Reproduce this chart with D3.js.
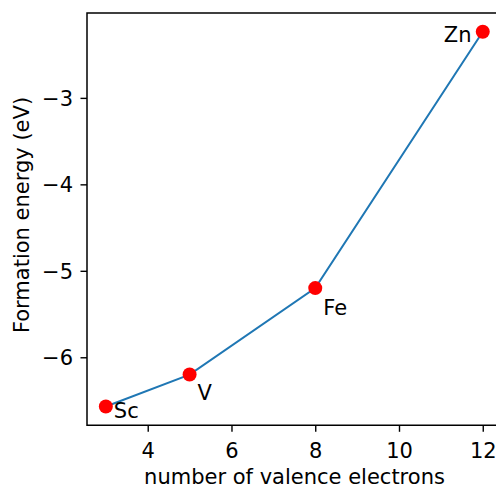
<!DOCTYPE html>
<html>
<head>
<meta charset="utf-8">
<script src="https://cdn.jsdelivr.net/npm/d3@7"></script>
<style>
  html, body { margin: 0; padding: 0; background: #fff; }
  svg { display: block; }
  text { font-family: "DejaVu Sans", sans-serif; fill: #000; }
</style>
</head>
<body>
<svg id="chart" width="496" height="489"></svg>
<script>
// Formation energy vs. number of valence electrons
const elements = ["Sc", "V", "Fe", "Zn"];
const valence = [3, 5, 8, 12];
const energy = [-6.57, -6.2, -5.2, -2.235];
const xTicks = [4, 6, 8, 10, 12];
const yTicks = [-3, -4, -5, -6];
// label offsets (dx, dy of baseline) relative to each point
const labelDx = [8, 8, 8, -39];
const labelDy = [11, 25.5, 27, 10.5];

const fontSize = "21px";
const svg = d3.select("#chart");
const plotLeft = 87, plotTop = 13, plotRight = 501.6, plotBottom = 425.3;

// 5% padding around data, like the usual plotting defaults
const xr = d3.max(valence) - d3.min(valence);
const yr = d3.max(energy) - d3.min(energy);
const x = d3.scaleLinear()
  .domain([d3.min(valence) - 0.05 * xr, d3.max(valence) + 0.05 * xr])
  .range([plotLeft, plotRight]);
const y = d3.scaleLinear()
  .domain([d3.min(energy) - 0.05 * yr, d3.max(energy) + 0.05 * yr])
  .range([plotBottom, plotTop]);

const fmt = d3.format("d");

// x axis
const xAxis = svg.append("g")
  .attr("transform", `translate(0,${plotBottom})`)
  .call(d3.axisBottom(x).tickValues(xTicks).tickFormat(fmt).tickSize(6.5).tickPadding(11));
xAxis.select(".domain").remove();
xAxis.selectAll("line").attr("stroke", "#000").attr("stroke-width", 1.4);
xAxis.selectAll("text").style("font-size", fontSize).attr("font-family", "DejaVu Sans");

// y axis
const yAxis = svg.append("g")
  .attr("transform", `translate(${plotLeft},0)`)
  .call(d3.axisLeft(y).tickValues(yTicks).tickFormat(d => fmt(d)).tickSize(6.5).tickPadding(7.5));
yAxis.select(".domain").remove();
yAxis.selectAll("line").attr("stroke", "#000").attr("stroke-width", 1.4);
yAxis.selectAll("text").style("font-size", fontSize).attr("font-family", "DejaVu Sans").attr("dy", "0.36em");

// spines
svg.append("path")
  .attr("d", `M${plotRight},${plotTop}H${plotLeft}V${plotBottom}H${plotRight}`)
  .attr("fill", "none").attr("stroke", "#000").attr("stroke-width", 1.5);

// line through the points
const pts = valence.map((v, i) => [v, energy[i]]);
svg.append("path")
  .datum(pts)
  .attr("d", d3.line().x(d => x(d[0])).y(d => y(d[1])))
  .attr("fill", "none").attr("stroke", "#1f77b4").attr("stroke-width", 2);

// markers
svg.append("g").selectAll("circle")
  .data(pts).join("circle")
  .attr("cx", d => x(d[0])).attr("cy", d => y(d[1]))
  .attr("r", 7).attr("fill", "#ff0000");

// element labels
svg.append("g").selectAll("text")
  .data(elements).join("text")
  .attr("x", (d, i) => x(valence[i]) + labelDx[i])
  .attr("y", (d, i) => y(energy[i]) + labelDy[i])
  .style("font-size", fontSize)
  .text(d => d);

// axis titles
svg.append("text")
  .attr("x", 294.5)
  .attr("y", 483.5)
  .attr("text-anchor", "middle")
  .style("font-size", fontSize)
  .text("number of valence electrons");

svg.append("text")
  .attr("transform", "translate(29,215) rotate(-90)")
  .attr("text-anchor", "middle")
  .style("font-size", fontSize)
  .text("Formation energy (eV)");
</script>
</body>
</html>
